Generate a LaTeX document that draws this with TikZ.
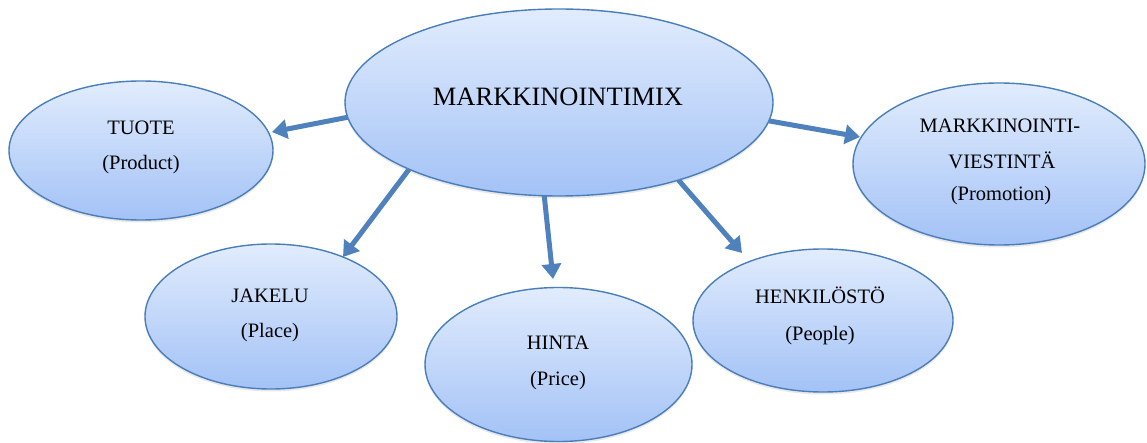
\documentclass[tikz,border=0pt]{standalone}
\usepackage{fontspec}
\setmainfont{Liberation Serif}
\usetikzlibrary{arrows.meta,shadows,shapes.geometric}

\definecolor{bubbletop}{HTML}{E1ECFD}
\definecolor{bubblebot}{HTML}{A3C2F6}
\definecolor{bubbleedge}{HTML}{4A7EBB}
\definecolor{arrowblue}{HTML}{4F81BD}

\tikzset{
  bubble/.style={ellipse, draw=bubbleedge, line width=1.4pt,
    top color=bubbletop, bottom color=bubblebot,
    inner sep=0pt, outer sep=0pt,
    drop shadow={opacity=0.18, shadow xshift=0pt, shadow yshift=-2.5pt}},
  subtxt/.style={anchor=base, font=\fontsize{20.5}{24}\selectfont, inner sep=0pt},
  maintxt/.style={anchor=base, font=\fontsize{26.5}{30}\selectfont, inner sep=0pt},
  link/.style={draw=arrowblue, line width=5pt,
    -{Triangle[length=15pt,width=19pt]}},
}

\begin{document}
\begin{tikzpicture}[x=1pt,y=-1pt]
\useasboundingbox (0,0) rectangle (1147,443);

% ellipses
\node[bubble, minimum width=428pt, minimum height=187pt] (main) at (559,102.5) {};
\node[bubble, minimum width=264pt, minimum height=139pt] (tuote) at (141,150.5) {};
\node[bubble, minimum width=292pt, minimum height=162pt] (promo) at (999,164) {};
\node[bubble, minimum width=252pt, minimum height=145pt] (jakelu) at (271,316.5) {};
\node[bubble, minimum width=267pt, minimum height=154pt] (hinta) at (558.5,364.5) {};
\node[bubble, minimum width=260pt, minimum height=143pt] (henk) at (823,320.5) {};

% texts
\node[maintxt] (tmain) at (558,106) {MARKKINOINTIMIX};
\node[subtxt] (t1a) at (141,135) {TUOTE};
\node[subtxt] (t1b) at (141,170) {(Product)};
\node[subtxt] (t2a) at (1000,133) {MARKKINOINTI-};
\node[subtxt] (t2b) at (1002,169) {VIESTINTÄ};
\node[subtxt] (t2c) at (1001,201) {(Promotion)};
\node[subtxt] (t3a) at (270,302) {JAKELU};
\node[subtxt] (t3b) at (270,337) {(Place)};
\node[subtxt] (t4a) at (558,349) {HINTA};
\node[subtxt] (t4b) at (558,385) {(Price)};
\node[subtxt] (t5a) at (820,303) {HENKILÖSTÖ};
\node[subtxt] (t5b) at (820,340) {(People)};

% arrow tips
\coordinate (e1) at (272,132);
\coordinate (e2) at (343,257);
\coordinate (e3) at (553,279);
\coordinate (e4) at (742,253);
\coordinate (e5) at (860,137);

% connectors
\draw[link] (main.184.8) -- (e1);
\draw[link] (main.204.9) -- (e2);
\draw[link] (main.261.3) -- (e3);
\draw[link] (main.327.3) -- (e4);
\draw[link] (main.355) -- (e5);
\end{tikzpicture}
\end{document}
